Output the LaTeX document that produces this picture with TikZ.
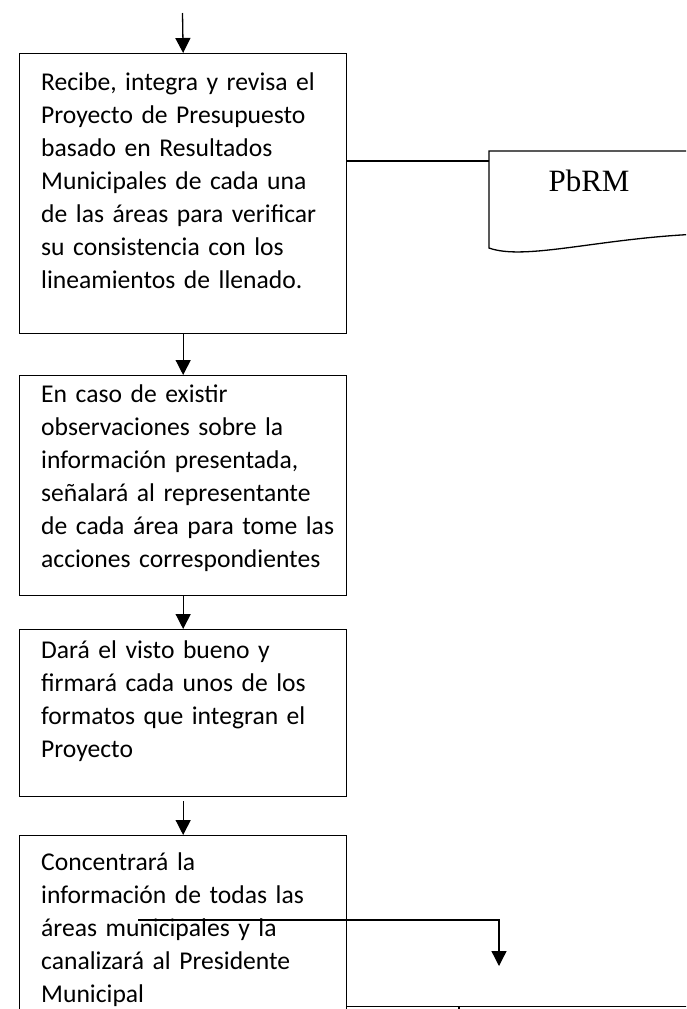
\documentclass[tikz,border=0pt]{standalone}
\usepackage{fontspec}
\setmainfont{Carlito}
\newfontfamily\serifpb{Liberation Serif}
\usetikzlibrary{arrows.meta}
\begin{document}
\begin{tikzpicture}[x=1pt,y=-1pt,
  box/.style={draw, line width=1.3pt, rectangle, inner sep=0pt, anchor=north west, minimum width=327pt},
  txt/.style={anchor=base west, inner sep=0pt, align=left, text width=320pt, font=\fontsize{25.6}{33}\selectfont},
  arr/.style={line width=1.3pt, -{Triangle[length=15pt,width=15pt]}},
  ln/.style={line width=1.3pt}]
\useasboundingbox (0,0) rectangle (686,1009);
\clip (0,0) rectangle (686,1009);
% boxes
\node[box, minimum height=280pt] (b1) at (19,53) {};
\node[box, minimum height=220pt] (b2) at (19,375) {};
\node[box, minimum height=167pt] (b3) at (19,629) {};
\node[box, minimum height=190pt] (b4) at (19,835) {};
% texts
\node[txt] (t1) at (41,90) {Recibe, integra y revisa el\\Proyecto de Presupuesto\\basado en Resultados\\Municipales de cada una\\de las áreas para verificar\\su consistencia con los\\lineamientos de llenado.};
\node[txt] (t2) at (41,402) {En caso de existir\\observaciones sobre la\\información presentada,\\señalará al representante\\de cada área para tome las\\acciones correspondientes};
\node[txt] (t3) at (41,658) {Dará el visto bueno y\\firmará cada unos de los\\formatos que integran el\\Proyecto};
\node[txt] (t4) at (41,870) {Concentrará la\\información de todas las\\áreas municipales y la\\canalizará al Presidente\\Municipal};
% arrows between boxes
\coordinate (start) at (182.5,13);
\draw[arr] (start) -- (b1.north);
\draw[arr] (b1) -- (b2);
\draw[arr] (b2) -- (b3);
\draw[arr, shorten <=4pt] (b3) -- (b4);
% PbRM document
\coordinate (pbl) at (489,161);
\draw[ln] (700,151) -- (489,151) -- (489,248) .. controls (525,261) and (600,238) .. (700,234);
\node[font=\serifpb\fontsize{31}{37}\selectfont, anchor=base, inner sep=0pt] (pbt) at (589,191) {PbRM};
\draw[ln] (pbl -| b1.east) -- (pbl);
% connector out of last box
\coordinate (c4s) at (138,920);
\coordinate (c4e) at (499,966);
\draw[arr] (c4s) -| (c4e);
% bottom table lines
\coordinate (tb) at (700,1006.5);
\coordinate (tk) at (459,1006.5);
\coordinate (tkd) at (459,1015);
\draw[ln] (tb -| b4.east) -- (tb);
\draw[ln] (tk) -- (tkd);
\end{tikzpicture}
\end{document}
